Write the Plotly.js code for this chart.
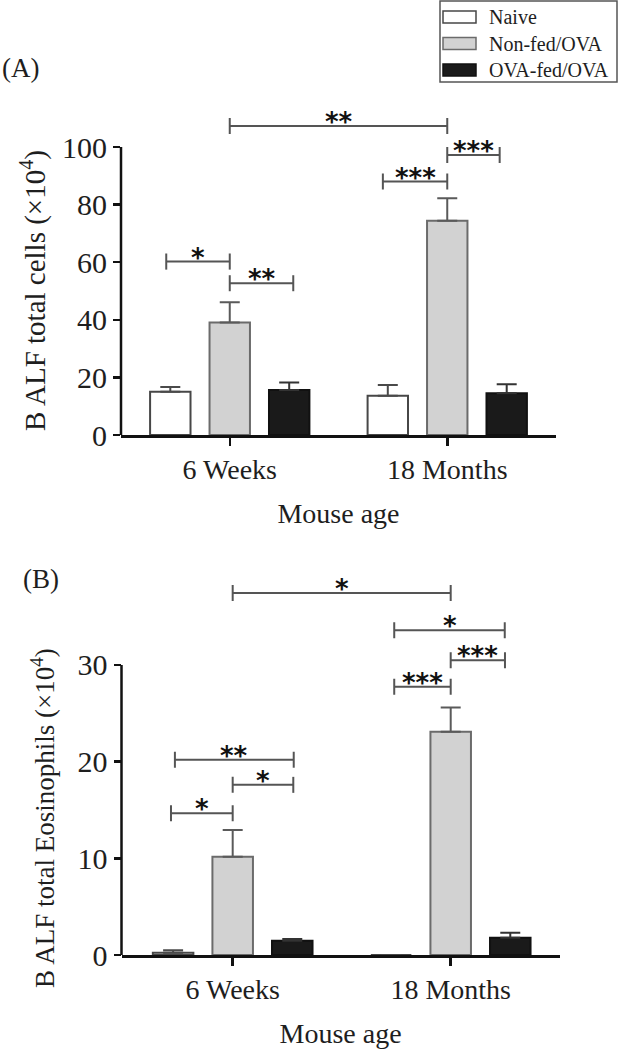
<!DOCTYPE html>
<html><head><meta charset="utf-8">
<script src="https://cdn.plot.ly/plotly-3.0.1.min.js"></script>
<style>html,body{margin:0;padding:0;background:#fff}</style>
</head><body><div id="chart" style="width:620px;height:1050px"></div>
<script>
// ---- data ----
const categories = ['6 Weeks', '18 Months'];
const groupNames = ['Naive', 'Non-fed/OVA', 'OVA-fed/OVA'];

const totalNaive  = [15.0, 13.6];
const totalNaiveErr  = [1.7, 3.8];
const totalNonfed = [39.1, 74.4];
const totalNonfedErr = [7.0, 7.8];
const totalOvafed = [15.6, 14.5];
const totalOvafedErr = [2.6, 3.1];

const eosNaive  = [0.24, 0];
const eosNaiveErr  = [0.25, 0];
const eosNonfed = [10.17, 23.1];
const eosNonfedErr = [2.76, 2.5];
const eosOvafed = [1.48, 1.79];
const eosOvafedErr = [0.17, 0.52];

const ticksA = [0, 20, 40, 60, 80, 100];
const ticksB = [0, 10, 20, 30];

const titleA = 'B ALF total cells (×10<sup>4</sup>)';
const titleB = 'B ALF total Eosinophils (×10<sup>4</sup>)';
const xTitle = 'Mouse age';

// significance brackets: [x0, x1, y, label] (category index units, data units)
const bracketsA = [
  [-0.292, 0, 60.2, '*'],
  [0, 0.292, 52.7, '**'],
  [0.704, 1, 88.0, '***'],
  [1, 1.241, 97.2, '***'],
  [0, 1, 107.3, '**']
];
const bracketsB = [
  [-0.283, 0, 14.66, '*'],
  [0, 0.278, 17.6, '*'],
  [-0.265, 0.28, 20.2, '**'],
  [0, 1, 37.45, '*'],
  [0.741, 1.248, 33.6, '*'],
  [1, 1.249, 30.5, '***'],
  [0.741, 1, 27.75, '***']
];

// ---- styles ----
const fillColors = ['#ffffff', '#d2d2d2', '#1a1a1a'];
const lineColors = ['#474747', '#6b6b6b', '#111111'];
const errColors  = ['#4a4a4a', '#5a5a5a', '#333333'];
const serif = 'Liberation Serif, Times New Roman, serif';
const ink = '#1e1e1e';

function barTrace(vals, errs, gi, xa, ya) {
  return {
    type: 'bar', x: categories, y: vals, name: groupNames[gi],
    xaxis: xa, yaxis: ya, showlegend: false, hoverinfo: 'skip',
    marker: { color: fillColors[gi], line: { color: lineColors[gi], width: 2 } },
    error_y: { type: 'data', array: errs, arrayminus: errs.map(() => 0), symmetric: false,
               color: errColors[gi], thickness: 2, width: 10 }
  };
}

const data = [
  barTrace(totalNaive, totalNaiveErr, 0, 'x', 'y'),
  barTrace(totalNonfed, totalNonfedErr, 1, 'x', 'y'),
  barTrace(totalOvafed, totalOvafedErr, 2, 'x', 'y'),
  barTrace(eosNaive, eosNaiveErr, 0, 'x2', 'y2'),
  barTrace(eosNonfed, eosNonfedErr, 1, 'x2', 'y2'),
  barTrace(eosOvafed, eosOvafedErr, 2, 'x2', 'y2')
];

const shapes = [];
const annotations = [];
const bcol = '#555555';
function addBrackets(list, xr, yr) {
  list.forEach(b => {
    const [x0, x1, y, lab] = b;
    shapes.push({ type: 'line', xref: xr, yref: yr, x0: x0, x1: x1, y0: y, y1: y, line: { color: bcol, width: 2 } });
    [x0, x1].forEach(xx => shapes.push({ type: 'line', xref: xr, yref: yr, ysizemode: 'pixel', yanchor: y,
      x0: xx, x1: xx, y0: -8, y1: 8, line: { color: bcol, width: 2 } }));
    annotations.push({ xref: xr, yref: yr, x: (x0 + x1) / 2, y: y, text: lab, showarrow: false,
      xanchor: 'center', yanchor: 'middle', yshift: 4,
      font: { family: 'DejaVu Sans, sans-serif', size: 26, color: '#111', weight: 'bold' } });
  });
}
addBrackets(bracketsA, 'x', 'y');
addBrackets(bracketsB, 'x2', 'y2');

// y axis lines (only up to the top tick)
shapes.push({ type: 'line', xref: 'x domain', yref: 'y', x0: 0, x1: 0, y0: 0, y1: ticksA[ticksA.length - 1], line: { color: '#111', width: 2.5 } });
shapes.push({ type: 'line', xref: 'x2 domain', yref: 'y2', x0: 0, x1: 0, y0: 0, y1: ticksB[ticksB.length - 1], line: { color: '#111', width: 2.5 } });

// legend box (manual)
const W = 620, H = 1050;
const px = v => v / W, py = v => (H - v) / H;
shapes.push({ type: 'rect', xref: 'paper', yref: 'paper', x0: px(440), x1: px(617), y0: py(82), y1: py(1), line: { color: '#555', width: 1.5 }, fillcolor: 'rgba(0,0,0,0)' });
const legRows = [17, 43.5, 70];
groupNames.forEach((n, i) => {
  shapes.push({ type: 'rect', xref: 'paper', yref: 'paper', x0: px(443), x1: px(476), y0: py(legRows[i] + 6), y1: py(legRows[i] - 6),
    fillcolor: fillColors[i], line: { color: lineColors[i], width: 1.5 } });
  annotations.push({ xref: 'paper', yref: 'paper', x: px(487), y: py(legRows[i]), text: n, showarrow: false,
    xanchor: 'left', yanchor: 'middle', font: { family: serif, size: 20, color: ink } });
});

// panel labels
annotations.push({ xref: 'paper', yref: 'paper', x: px(0), y: py(68), text: '(A)', showarrow: false, xanchor: 'left', yanchor: 'middle', font: { family: serif, size: 27, color: ink } });
annotations.push({ xref: 'paper', yref: 'paper', x: px(21), y: py(579), text: '(B)', showarrow: false, xanchor: 'left', yanchor: 'middle', font: { family: serif, size: 27, color: ink } });

// y axis titles as rotated annotations (positioned like the reference)
annotations.push({ xref: 'paper', yref: 'paper', x: px(33), y: py(291), text: titleA, textangle: -90, showarrow: false,
  xanchor: 'center', yanchor: 'middle', font: { family: serif, size: 29, color: ink } });
annotations.push({ xref: 'paper', yref: 'paper', x: px(43), y: py(818), text: titleB, textangle: -90, showarrow: false,
  xanchor: 'center', yanchor: 'middle', font: { family: serif, size: 27, color: ink } });

function xAxis(domain, range, anchor) {
  return {
    domain: domain, range: range, anchor: anchor, type: 'category',
    showline: true, linecolor: '#111', linewidth: 2.5, mirror: false,
    ticks: 'outside', ticklen: 8, tickwidth: 2.5, tickcolor: '#111',
    tickfont: { family: serif, size: 28, color: ink },
    showgrid: false, zeroline: false, fixedrange: true,
    title: { text: xTitle, font: { family: serif, size: 28, color: ink }, standoff: 20 }
  };
}
function yAxis(domain, range, tv, anchor) {
  return {
    domain: domain, range: range, anchor: anchor, tickvals: tv, ticktext: tv.map(String),
    showline: false, ticks: 'outside', ticklen: 7, tickwidth: 2.5, tickcolor: '#111',
    tickfont: { family: serif, size: 30, color: ink },
    showgrid: false, zeroline: false, fixedrange: true
  };
}

const layout = {
  width: W, height: H, margin: { l: 0, r: 0, t: 0, b: 0 },
  paper_bgcolor: '#fff', plot_bgcolor: 'rgba(0,0,0,0)',
  barmode: 'group', bargap: 0.18, bargroupgap: 0.32,
  showlegend: false,
  xaxis: xAxis([121 / W, 556 / W], [-0.5, 1.5], 'y'),
  yaxis: yAxis([(H - 435) / H, (H - 103.8) / H], [0, 115], ticksA, 'x'),
  xaxis2: xAxis([121.5 / W, 559.7 / W], [-0.51, 1.5], 'y2'),
  yaxis2: yAxis([(H - 955) / H, (H - 568.3) / H], [0, 40], ticksB, 'x2'),
  shapes: shapes, annotations: annotations
};

Plotly.newPlot('chart', data, layout, { staticPlot: true, displayModeBar: false });
</script></body></html>
